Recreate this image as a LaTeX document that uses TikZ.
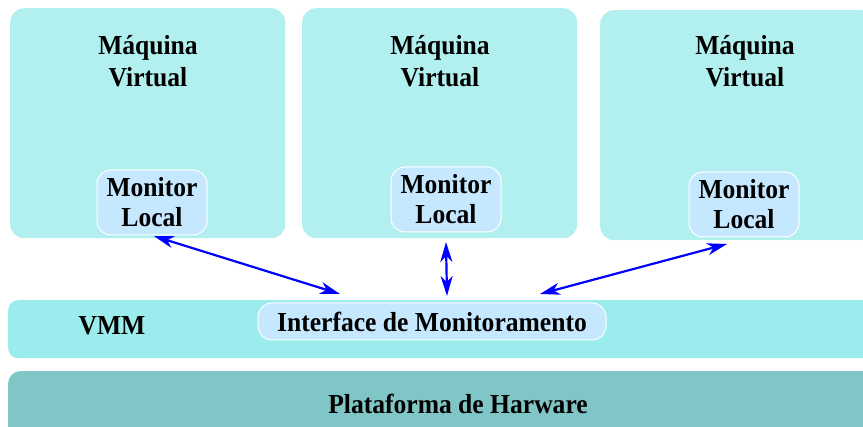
\documentclass[tikz,border=0pt]{standalone}
\usepackage{fontspec}
\setmainfont{Liberation Serif}[FakeStretch=0.93]
\usetikzlibrary{arrows.meta}
\definecolor{vmfill}{HTML}{B2F0F0}
\definecolor{monfill}{HTML}{C5E8FF}
\definecolor{vmmfill}{HTML}{9BEDED}
\definecolor{hwfill}{HTML}{80C6C6}
\tikzset{
  vmbox/.style={rectangle, rounded corners=14pt, fill=vmfill, draw=none, minimum width=275pt, minimum height=230pt, anchor=north west, inner sep=0pt},
  monbox/.style={rectangle, rounded corners=14pt, fill=monfill, draw=white, line width=1pt, minimum width=110pt, minimum height=65pt, align=center, inner sep=0pt, font=\bfseries\fontsize{27.5}{30}\selectfont},
  lbl/.style={align=center, inner sep=0pt, font=\bfseries\fontsize{27.5}{32}\selectfont},
  link/.style={draw=blue, line width=2.2pt, {Stealth[length=20pt,width=12pt,inset=6pt]}-{Stealth[length=20pt,width=12pt,inset=6pt]}}
}
\begin{document}
\begin{tikzpicture}[x=1pt,y=-1pt]
\useasboundingbox (0,0) rectangle (863,427);
% virtual machines
\node[vmbox] (vm1) at (10,8) {};
\node[vmbox] (vm2) at (302,8) {};
\node[vmbox] (vm3) at (600,10) {};
\node[lbl] (t1) at (148,61) {Máquina\\Virtual};
\node[lbl] (t2) at (440,61) {Máquina\\Virtual};
\node[lbl] (t3) at (745,61) {Máquina\\Virtual};
\node[monbox] (ml1) at (152,202.5) {Monitor\\Local};
\node[monbox] (ml2) at (446,199.5) {Monitor\\Local};
\node[monbox] (ml3) at (744,204.5) {Monitor\\Local};
% VMM
\node[rectangle, rounded corners=10pt, fill=vmmfill, minimum width=880pt, minimum height=58pt, anchor=north west, inner sep=0pt] (vmm) at (8,300) {};
\node[lbl] (vmmt) at (112,326) {VMM};
\node[rectangle, rounded corners=14pt, fill=monfill, draw=white, line width=1pt, minimum width=348pt, minimum height=37pt, inner sep=0pt, font=\bfseries\fontsize{27.5}{32}\selectfont] (iface) at (432,321.5) {Interface de Monitoramento};
% hardware
\node[rectangle, rounded corners=12pt, fill=hwfill, minimum width=880pt, minimum height=70pt, anchor=north west, inner sep=0pt] (hw) at (8,371) {};
\node[lbl] (hwt) at (458,404) {Plataforma de Harware};
% connectors
\coordinate (e1) at (340,294);
\coordinate (e2) at (447,296);
\coordinate (e3) at (540,294);
\draw[link, shorten <=2pt] (ml1.south) -- (e1);
\draw[link] (ml2.south |- 0,242) coordinate (s2) -- (e2);
\draw[link] (727,244) coordinate (s3) -- (e3);
\end{tikzpicture}
\end{document}
